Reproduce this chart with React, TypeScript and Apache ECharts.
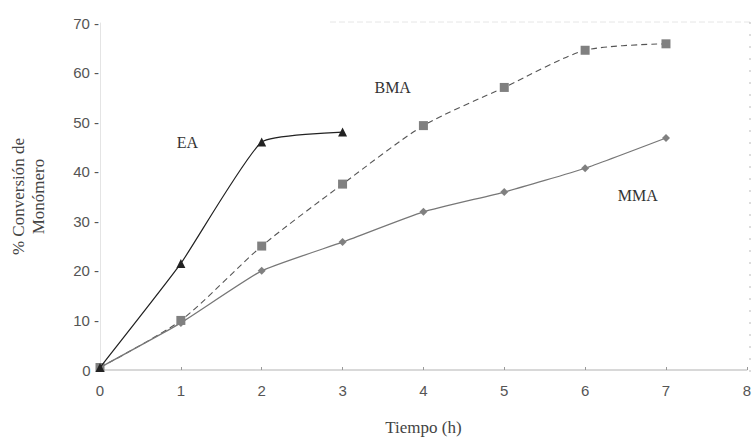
import React, { useEffect, useRef } from "react";
import * as echarts from "echarts";

const hours = [0, 1, 2, 3, 4, 5, 6, 7];
const eaValues = [0.5, 21.5, 46, 48];
const bmaValues = [0.5, 10, 25, 37.5, 49.3, 57, 64.5, 65.8];
const mmaValues = [0.5, 9.5, 20, 25.8, 31.9, 35.9, 40.7, 46.8];
const seriesLabels = [
  { text: "EA", x: 1.08, y: 45.8 },
  { text: "BMA", x: 3.62, y: 57 },
  { text: "MMA", x: 6.65, y: 35.2 },
];

const serif = "'Liberation Serif', 'DejaVu Serif', serif";
const sans = "'Liberation Sans', Arial, sans-serif";

function pairs(vals: number[]) {
  return vals.map((v, i) => [hours[i], v]);
}

export default function App() {
  const ref = useRef<HTMLDivElement>(null);
  useEffect(() => {
    if (!ref.current) return;
    const chart = echarts.init(ref.current, undefined, { renderer: "svg" });
    chart.setOption({
      animation: false,
      backgroundColor: "#fff",
      grid: { left: 94, right: 4, top: 23, bottom: 69, containLabel: false },
      xAxis: {
        type: "value",
        min: 0,
        max: 8,
        interval: 1,
        name: "Tiempo (h)",
        nameLocation: "middle",
        nameGap: 49,
        nameTextStyle: { fontFamily: serif, fontSize: 17, color: "#444" },
        axisLine: { lineStyle: { color: "#ccc", width: 1.5 } },
        axisTick: { inside: true, length: 3, lineStyle: { color: "#999" } },
        axisLabel: { fontFamily: sans, fontSize: 15, color: "#555", margin: 13 },
        splitLine: { show: false },
      },
      yAxis: {
        type: "value",
        min: 0,
        max: 70,
        interval: 10,
        name: "% Conversión de\nMonómero",
        nameLocation: "middle",
        nameGap: 52,
        nameRotate: 90,
        nameTextStyle: { fontFamily: serif, fontSize: 17, color: "#444", lineHeight: 20 },
        axisLine: { show: true, lineStyle: { color: "#e4e4e4", width: 1 } },
        axisTick: { show: false },
        axisLabel: {
          fontFamily: sans,
          fontSize: 15,
          color: "#555",
          margin: 1,
          formatter: (v: number) => (v === 0 ? "0  " : v + " -"),
        },
        splitLine: { show: false },
      },
      graphic: [
        {
          type: "line",
          shape: { x1: 330, y1: 22, x2: 750, y2: 22 },
          style: { stroke: "#e6e6e6", lineWidth: 1, lineDash: [6, 3] },
        },
        {
          type: "line",
          shape: { x1: 750, y1: 22, x2: 750, y2: 372 },
          style: { stroke: "#bbb", lineWidth: 1, lineDash: [2, 10] },
        },
      ],
      series: [
        {
          name: "EA",
          type: "line",
          smooth: 0.15,
          data: pairs(eaValues),
          symbol: "triangle",
          symbolSize: 9,
          itemStyle: { color: "#222" },
          lineStyle: { color: "#222", width: 1.2 },
          z: 3,
        },
        {
          name: "BMA",
          type: "line",
          smooth: 0.25,
          data: pairs(bmaValues),
          symbol: "rect",
          symbolSize: 9,
          itemStyle: { color: "#808080" },
          lineStyle: { color: "#555", width: 1.1, type: [6, 4] },
          z: 2,
        },
        {
          name: "MMA",
          type: "line",
          smooth: 0.15,
          data: pairs(mmaValues),
          symbol: "diamond",
          symbolSize: 8,
          itemStyle: { color: "#808080" },
          lineStyle: { color: "#777", width: 1.3 },
          z: 2,
          markPoint: {
            symbol: "rect",
            symbolSize: 1,
            itemStyle: { color: "rgba(0,0,0,0)" },
            label: { show: true, fontFamily: serif, fontSize: 16, color: "#333" },
            data: seriesLabels.map((l) => ({
              coord: [l.x, l.y],
              value: l.text,
              label: { formatter: l.text },
            })),
          },
        },
      ],
    });
    return () => chart.dispose();
  }, []);
  return (
    <div
      ref={ref}
      style={{ position: "absolute", left: 0, top: 0, width: 754, height: 441 }}
    />
  );
}
